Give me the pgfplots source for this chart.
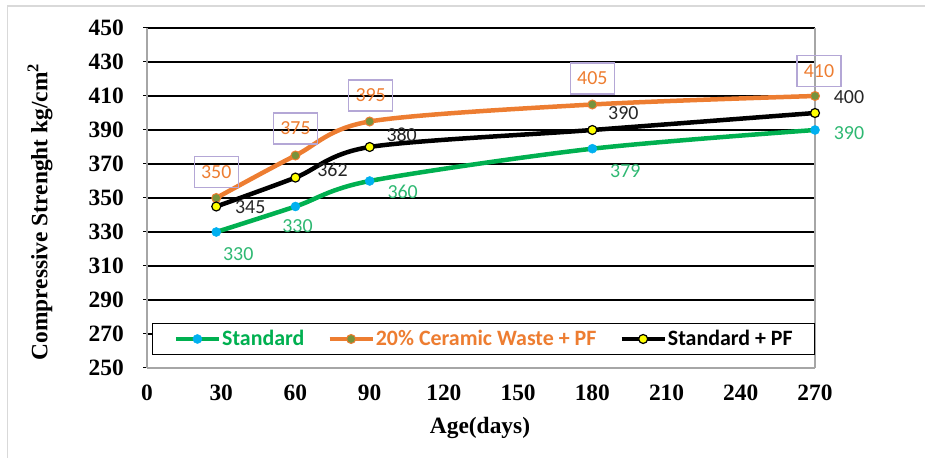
\documentclass[border=0pt]{standalone}
\usepackage{pgfplots}
\pgfplotsset{compat=1.18}
\usepackage{fontspec}
\setmainfont{Liberation Serif}
\newfontfamily\calibri{Carlito}
\definecolor{sgreen}{HTML}{00B050}
\definecolor{sblue}{HTML}{00B0F0}
\definecolor{sorange}{HTML}{ED7D31}
\definecolor{solive}{HTML}{77933C}
\definecolor{syellow}{HTML}{FFFF00}
\definecolor{lgreen}{HTML}{2EB872}
\definecolor{lorange}{HTML}{ED7D31}
\definecolor{lblack}{HTML}{262626}
\definecolor{boxc}{HTML}{B4A7D6}
\definecolor{framec}{HTML}{D9D9D9}
\definecolor{borderc}{HTML}{A6A6A6}
\begin{document}
\begin{tikzpicture}
\useasboundingbox (0bp,0bp) rectangle (925bp,458bp);
\draw[framec, line width=1.5bp] (7.5bp,0bp) -- (7.5bp,452bp) -- (925bp,452bp);
\begin{axis}[
  at={(147bp,90bp)}, anchor=south west,
  scale only axis, width=668bp, height=340bp,
  xmin=0, xmax=270, ymin=250, ymax=450,
  xtick={0,30,...,270}, ytick={250,270,...,450},
  axis x line*=bottom, axis y line*=box,
  axis line style={borderc, line width=1.5bp},
  ymajorgrids, grid style={black, line width=1.3bp},
  tick align=outside, major tick length=4bp,
  ytick pos=left, xtick pos=bottom,
  x tick style={draw=none},
  y tick style={black, line width=1bp},
  tick label style={font=\bfseries\fontsize{23.5}{23.5}\selectfont, /pgf/number format/assume math mode=true},
  xticklabel style={anchor=north, inner sep=0pt, yshift=-13bp},
  yticklabel style={anchor=east, inner sep=0pt, xshift=-19bp},
  clip=false,
  legend columns=3,
  legend cell align=left,
  legend image code/.code={\draw[mark repeat=2, mark phase=2, #1] plot coordinates {(0bp,0bp) (21.5bp,0bp) (43bp,0bp)};},
  legend style={at={(0.0075,0.038)}, anchor=south west, draw=black, line width=1.3bp, fill=white,
    font=\calibri\bfseries\fontsize{22}{22}\selectfont,
    inner xsep=21bp, inner ysep=6bp,
    nodes={inner sep=1bp},
    /tikz/every even column/.append style={column sep=22bp}},
]
\addplot[sgreen, line width=4.5bp, smooth, mark=*, mark size=4.5bp, mark options={fill=sblue, draw=sblue, line width=0.5bp}]
  coordinates {(28,330) (60,345) (90,360) (180,379) (270,390)};
\addlegendentry{\textcolor{sgreen}{Standard}}
\addplot[sorange, line width=4.5bp, smooth, mark=*, mark size=4.5bp, mark options={fill=solive, draw=sorange, line width=1bp}]
  coordinates {(28,350) (60,375) (90,395) (180,405) (270,410)};
\addlegendentry{\textcolor{sorange}{20\% Ceramic Waste + PF}}
\addplot[black, line width=4.5bp, smooth, mark=*, mark size=4.5bp, mark options={fill=syellow, draw=black, line width=1.2bp}]
  coordinates {(28,345) (60,362) (90,380) (180,390) (270,400)};
\addlegendentry{\textcolor{black}{Standard + PF}}
\tikzset{obox/.style={draw=boxc, line width=1.3bp, text=lorange, font=\calibri\fontsize{20}{20}\selectfont, minimum width=44bp, minimum height=31bp, inner sep=0pt},
  blab/.style={text=lblack, font=\calibri\fontsize{20}{20}\selectfont, inner sep=0pt},
  glab/.style={text=lgreen, font=\calibri\fontsize{20}{20}\selectfont, inner sep=0pt}}
\node[obox, yshift=26bp] at (axis cs:28,350) {350};
\node[obox, yshift=27bp] at (axis cs:60,375) {375};
\node[obox, xshift=1bp, yshift=26bp] at (axis cs:90,395) {395};
\node[obox, yshift=26bp] at (axis cs:180,405) {405};
\node[obox, xshift=4bp, yshift=25bp] at (axis cs:270,410) {410};
\node[blab, xshift=34bp, yshift=-1bp] at (axis cs:28,345) {345};
\node[blab, xshift=37bp, yshift=8bp] at (axis cs:60,362) {362};
\node[blab, xshift=32bp, yshift=12bp] at (axis cs:90,380) {380};
\node[blab, xshift=31bp, yshift=17bp] at (axis cs:180,390) {390};
\node[blab, xshift=34bp, yshift=16bp] at (axis cs:270,400) {400};
\node[glab, xshift=22bp, yshift=-22bp] at (axis cs:28,330) {330};
\node[glab, xshift=2bp, yshift=-20bp] at (axis cs:60,345) {330};
\node[glab, xshift=33bp, yshift=-11bp] at (axis cs:90,360) {360};
\node[glab, xshift=33bp, yshift=-22bp] at (axis cs:180,379) {379};
\node[glab, xshift=34bp, yshift=-3bp] at (axis cs:270,390) {390};
\end{axis}
\node[rotate=90, font=\bfseries\fontsize{23.5}{23.5}\selectfont] at (40bp,246bp) {Compressive Strenght kg/cm\textsuperscript{2}};
\node[font=\bfseries\fontsize{23.5}{23.5}\selectfont] at (480bp,30bp) {Age(days)};
\end{tikzpicture}
\end{document}
